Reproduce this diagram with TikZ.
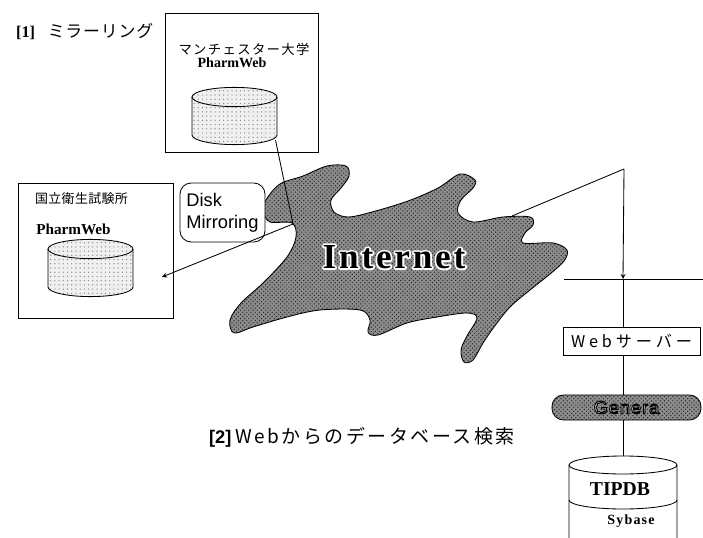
\documentclass[tikz,border=0pt]{standalone}
\usepackage{fontspec}
\setmainfont{Liberation Serif}
\setsansfont{Liberation Sans}
\newfontfamily\jpfont{Noto Sans CJK JP}
\usetikzlibrary{shapes,positioning,patterns}
\tikzset{site/.style={draw,fill=white,inner sep=0pt},
  drum/.style={draw,preaction={fill=black!6},pattern=dots,pattern color=black!45},
  stipple/.style={draw,preaction={fill=black!45},pattern=crosshatch dots,pattern color=black!85},
  jp/.style={font=\jpfont\fontsize{#1}{#1}\selectfont}}

% glyphs filled in the text colour and stroked: stroke rgb, stroke width, text
\newcommand\rimmed[3]{\special{pdf:literal direct q #1 RG #2 w 1 j 2 Tr}#3\special{pdf:literal direct Q}}
% white halo under the glyphs: halo width, text
\newcommand\haloed[2]{\rlap{\special{pdf:literal direct q 1 1 1 RG #1 w 1 j 1 J 1 Tr}#2\special{pdf:literal direct Q}}#2}

% PharmWeb disk: centre x, top y, bottom y, name
\newcommand\pwdrum[4]{%
  \filldraw[drum] ({#1-42.5},#2) -- ({#1-42.5},#3)
    arc[start angle=180,end angle=360,x radius=1.0625cm,y radius=0.24cm]
    -- ({#1+42.5},#2)
    arc[start angle=0,end angle=180,x radius=1.0625cm,y radius=0.24cm] -- cycle;
  \draw ({#1-42.5},#2) arc[start angle=180,end angle=360,x radius=1.0625cm,y radius=0.24cm];
  \coordinate (#4-se) at ({#1+41},{#3+5});
}

\begin{document}
\begin{tikzpicture}[x=0.025cm,y=-0.025cm,>=stealth,line width=0.6pt]
    \useasboundingbox (0,0) rectangle (703,538);

    % the cloud
    \filldraw[stipple] plot[smooth cycle,tension=0.55] coordinates {
        (266,200) (280,184) (303,176) (327,166) (346,166) (349,176) (341,188)
        (331,200) (334,212) (348,217) (372,212) (408,201) (438,188) (460,174)
        (475,180) (473,188) (461,200) (458,213) (473,222) (503,217) (530,217)
        (533,225) (525,233) (523,243) (553,243) (567,250) (564,261) (550,274)
        (530,290) (510,307) (494,327) (483,343) (473,360) (464,362) (461,350)
        (467,336) (477,318) (467,313) (437,317) (407,323) (378,335) (368,332)
        (370,320) (360,310) (320,310) (287,317) (253,327) (234,333) (230,320)
        (241,303) (263,283) (287,257) (296,237) (292,223) (270,222) (264,212)};
    \node (net) at (394,257) {\fontsize{25}{25}\selectfont\bfseries\addfontfeatures{LetterSpace=8}\haloed{2.6}{Internet}};

    % [1] mirroring
    \node[anchor=west] (mirr-title) at (11,32) {{\bfseries\fontsize{11.6}{12}\selectfont [1]}\hspace{9pt}{\jpfont\fontsize{12}{12}\selectfont\addfontfeatures{LetterSpace=5}ミラーリング}};

    \node[site,minimum width=3.825cm,minimum height=3.475cm] (manc) at (242,82.5) {};
    \node[jp=9.5pt] (manc-name) at (244,49) {\addfontfeatures{LetterSpace=10}マンチェスター大学};
    \node[font=\bfseries\fontsize{10}{10}\selectfont] (manc-pw) at (232,63) {PharmWeb};
    \pwdrum{234.5}{97}{135}{manc-db}

    \node[site,minimum width=3.875cm,minimum height=3.375cm] (nihs) at (95.5,250.5) {};
    \node[jp=9.2pt] (nihs-name) at (81.5,199) {\addfontfeatures{LetterSpace=3}国立衛生試験所};
    \node[font=\bfseries\fontsize{10.8}{11}\selectfont] (nihs-pw) at (73.5,229) {PharmWeb};
    \pwdrum{90.5}{249}{287}{nihs-db}

    \node[draw,fill=white,rounded corners=8pt,minimum width=2.125cm,minimum height=1.475cm,
          align=left,font=\sffamily\fontsize{13}{15.5}\selectfont] (mirror) at (222.5,212.5) {Disk\\Mirroring};

    \coordinate (junc) at (293,224);
    \coordinate (nihs-in) at (162,277);
    \draw (manc-db-se) -- (junc);
    \draw [->] (junc) -- (nihs-in);

    % [2] database on the web
    \node[anchor=west] (srch-title) at (204,437) {{\sffamily\bfseries\fontsize{13}{13}\selectfont [2]}\hspace{3pt}{\jpfont\fontsize{13.5}{14}\selectfont\addfontfeatures{LetterSpace=13}Webからのデータベース検索}};

    \coordinate (net-ne) at (512,216);
    \coordinate (bend) at (624,169);
    \coordinate (tap) at (623,279);
    \coordinate (lan-w) at (564,279);
    \coordinate (lan-e) at (703,279);
    \draw (net-ne) -- (bend);
    \draw [->] (bend) -- (tap);
    \draw (lan-w) -- (lan-e);

    \node[draw,fill=white,minimum width=3.425cm,minimum height=0.7cm,jp=11.5pt] (web) at (631.5,341) {\addfontfeatures{LetterSpace=24}Webサーバー};
    \node[stipple,rounded corners=0.29cm,minimum width=3.725cm,minimum height=0.625cm,
          text=black!6,font=\sffamily\fontsize{13}{13}\selectfont] (genera) at (626.5,407.5) {\addfontfeatures{LetterSpace=5}\rimmed{0 0 0}{0.7}{Genera}};

    % TIPDB disk
    \coordinate (tipdb) at (623,456);
    \fill[white] (569,465) rectangle (677,538);
    \draw (569,538) -- (569,465) arc[start angle=180,end angle=0,x radius=1.35cm,y radius=0.225cm] -- (677,538);
    \draw (569,465) arc[start angle=180,end angle=360,x radius=1.35cm,y radius=0.225cm];
    \draw (569,500) arc[start angle=180,end angle=360,x radius=1.35cm,y radius=0.225cm];
    \node[font=\bfseries\fontsize{14}{14}\selectfont] (tipdb-name) at (620,489) {TIPDB};
    \node[font=\bfseries\fontsize{10}{10}\selectfont] (tipdb-eng) at (631,521) {\addfontfeatures{LetterSpace=8}Sybase};

    \draw (tap) -- (tap |- web.north);
    \draw (tap |- web.south) -- (tap |- genera.north);
    \draw (tap |- genera.south) -- (tipdb);
\end{tikzpicture}
\end{document}
